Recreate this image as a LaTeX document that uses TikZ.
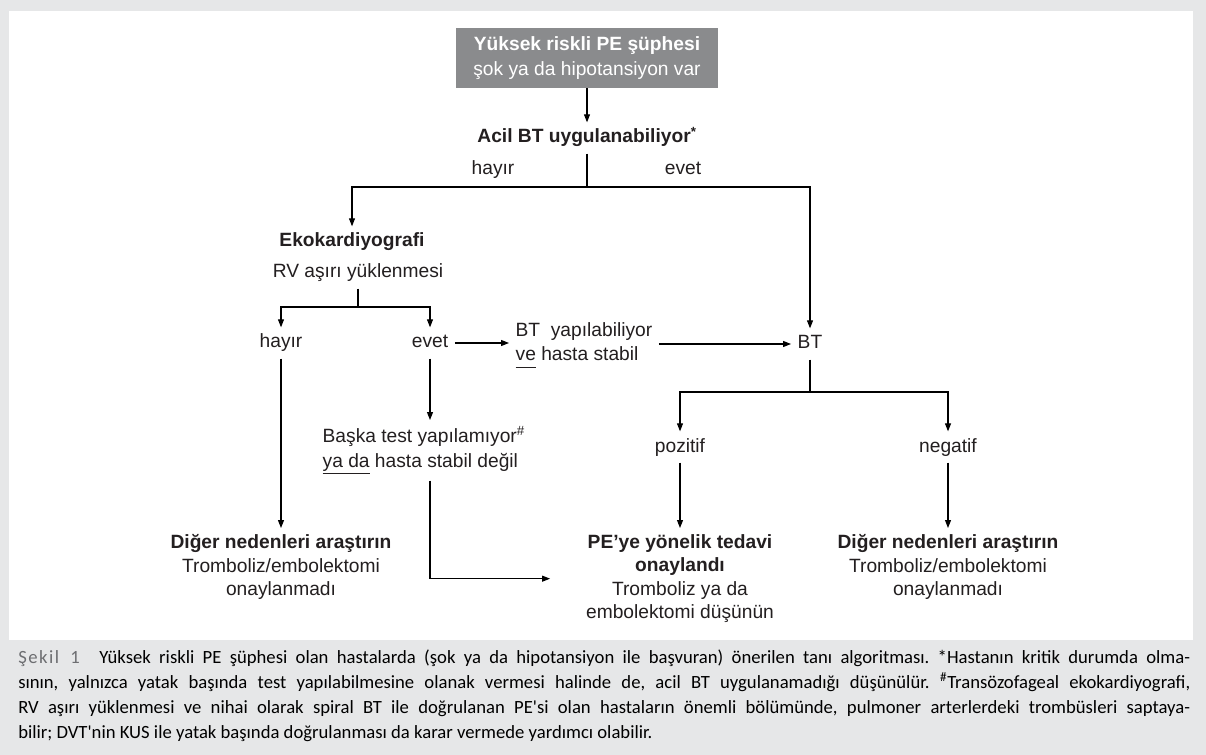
\documentclass[tikz,border=0pt]{standalone}
\usepackage{fontspec}
\setmainfont{Liberation Sans}
\newfontfamily\capfont{Carlito}
\usepackage{xcolor}
\usepackage{tikz}
\usetikzlibrary{arrows.meta}
\definecolor{boxgray}{HTML}{8A8B8D}
\definecolor{pagegray}{HTML}{E6E7E8}
\definecolor{inkdark}{HTML}{231F20}
\definecolor{labelgray}{HTML}{6D6E71}
\tikzset{ flow_text/.style = {font=\fontsize{14.4}{17.5}\selectfont, text=inkdark, align=center, inner sep=3pt, outer sep=2pt} }
\tikzset{ flow_word/.style = {flow_text, text height=10.5pt, text depth=3pt} }
\tikzset{ flow_bold/.style = {flow_word, font=\fontsize{14.4}{17.5}\selectfont\bfseries} }
\tikzset{ start_box/.style = {rectangle, fill=boxgray, text=white, align=center, minimum width=196.5pt, minimum height=45pt, font=\fontsize{14.4}{18.5}\selectfont} }
\tikzset{ flow_arrow/.style = {-{Triangle[length=6pt,width=4.5pt]}, line width=0.8pt} }
\tikzset{ flow_line/.style = {line width=0.8pt} }

\begin{document}
\begin{tikzpicture}[x=0.75pt, y=-0.75pt]
    \useasboundingbox (0,0) rectangle (1206,755);
    \fill[pagegray] (0,0) rectangle (1206,755);
    \fill[white] (9,11) rectangle (1193,640);

    \node[start_box] (start) at (587,58) {\textbf{Yüksek riskli PE şüphesi}\\şok ya da hipotansiyon var};
    \node[flow_bold] (acil) at (587,138) {Acil BT uygulanabiliyor\textsuperscript{*}};
    \node[flow_word] (no1) at (493,170) {hayır};
    \node[flow_word] (yes1) at (683,170) {evet};
    \coordinate (split1) at (587,187);

    \node[flow_bold] (eko) at (352,242) {Ekokardiyografi};
    \node[flow_word] (rv) at (358,273) {RV aşırı yüklenmesi};
    \coordinate (split2) at (358,307);
    \node[flow_word] (no2) at (281,343) {hayır};
    \node[flow_word] (yes2) at (430,343) {evet};

    \node[flow_text, font=\fontsize{14.4}{18.5}\selectfont, align=left, anchor=west] (btok) at (509,345) {BT\ \ yapılabiliyor\\\underline{ve\vphantom{y}} hasta stabil};
    \node[flow_word] (bt) at (810,344) {BT};
    \coordinate (split3) at (810,392);
    \node[flow_word] (pos) at (680,447) {pozitif};
    \node[flow_word] (neg) at (948,447) {negatif};

    \node[flow_text, font=\fontsize{14.4}{18.5}\selectfont, align=left, anchor=north west] (notest) at (316,420) {Başka test yapılamıyor\textsuperscript{\#}\\\underline{ya da} hasta stabil değil};

    \node[flow_text, anchor=north] (other_l) at (281,528) {\textbf{Diğer nedenleri araştırın}\\Tromboliz/embolektomi\\onaylanmadı};
    \node[flow_text, anchor=north] (treat) at (680,528) {\textbf{PE'ye yönelik tedavi}\\\textbf{onaylandı}\\Tromboliz ya da\\embolektomi düşünün};
    \node[flow_text, anchor=north] (other_r) at (948,528) {\textbf{Diğer nedenleri araştırın}\\Tromboliz/embolektomi\\onaylanmadı};

    \draw[flow_arrow] (start) -- (acil);
    \draw[flow_line] (acil) -- (split1);
    \draw[flow_arrow] (split1) -| (eko);
    \draw[flow_arrow] (split1) -| (bt);
    \draw[flow_line] (rv) -- (split2);
    \draw[flow_arrow] (split2) -| (no2);
    \draw[flow_arrow] (split2) -| (yes2);
    \draw[flow_arrow] (yes2) -- (yes2 -| btok.west);
    \draw[flow_arrow] (bt -| btok.east) -- (bt);
    \draw[flow_line] (bt) -- (split3);
    \draw[flow_arrow] (split3) -| (pos);
    \draw[flow_arrow] (split3) -| (neg);
    \draw[flow_arrow] (no2) -- (other_l);
    \draw[flow_arrow] (yes2) -- (yes2 |- notest.north);
    \draw[flow_arrow, shorten >=22pt] (yes2 |- notest.south) |- (treat.west);
    \draw[flow_arrow] (pos) -- (treat);
    \draw[flow_arrow] (neg) -- (other_r);

    \node[anchor=north west, inner sep=0pt, text width=879pt, align=justify,
          font=\capfont\fontsize{14}{18.75}\selectfont] (caption) at (18,650)
        {\frenchspacing{\color{labelgray}\addfontfeatures{LetterSpace=8}Şekil 1}\hspace{0.6em} Yüksek riskli PE şüphesi olan hastalarda (şok ya da hipotansiyon ile başvuran) önerilen tanı algoritması. *Hastanın kritik durumda olma-\linebreak sının, yalnızca yatak başında test yapılabilmesine olanak vermesi halinde de, acil BT uygulanamadığı düşünülür. \textsuperscript{\#}Transözofageal ekokardiyografi,\linebreak RV aşırı yüklenmesi ve nihai olarak spiral BT ile doğrulanan PE'si olan hastaların önemli bölümünde, pulmoner arterlerdeki trombüsleri saptaya-\linebreak bilir; DVT'nin KUS ile yatak başında doğrulanması da karar vermede yardımcı olabilir.};
\end{tikzpicture}
\end{document}
